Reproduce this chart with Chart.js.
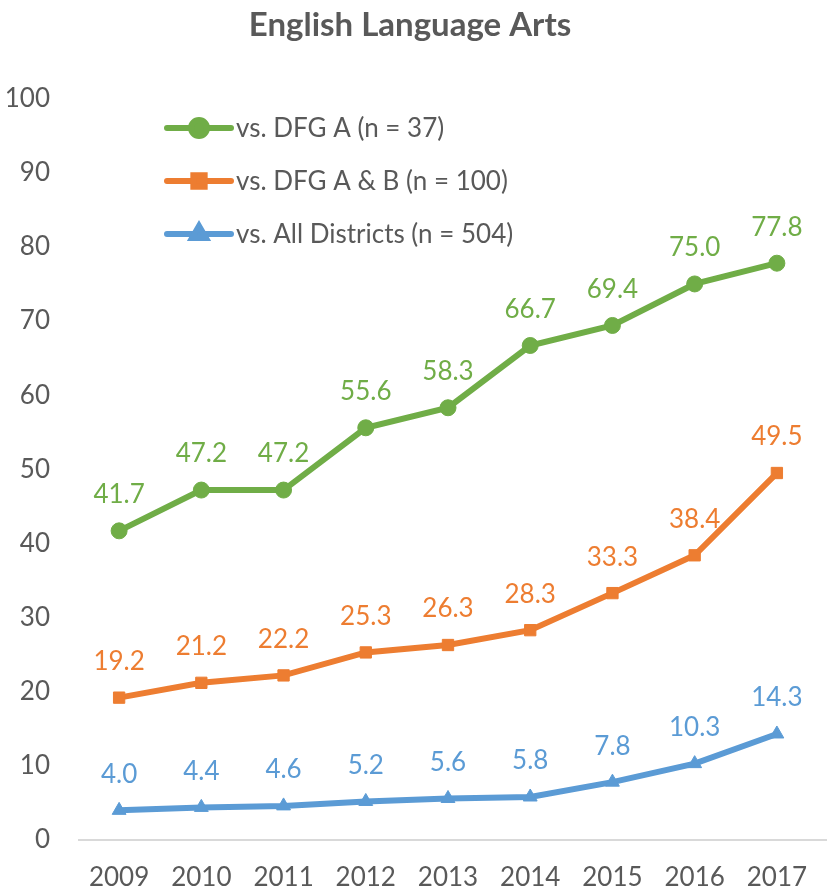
<!DOCTYPE html>
<html>
<head>
<meta charset="utf-8">
<script src="https://cdn.jsdelivr.net/npm/chart.js@4"></script>
<style>
  html, body { margin: 0; padding: 0; background: #fff; }
  #wrap { width: 827px; height: 893px; }
</style>
</head>
<body>
<div id="wrap"><canvas id="elaChart" width="827" height="893"></canvas></div>
<script>
// Chart data
const years = ["2009", "2010", "2011", "2012", "2013", "2014", "2015", "2016", "2017"];
const dfgA = [41.7, 47.2, 47.2, 55.6, 58.3, 66.7, 69.4, 75.0, 77.8];
const dfgAB = [19.2, 21.2, 22.2, 25.3, 26.3, 28.3, 33.3, 38.4, 49.5];
const allDistricts = [4.0, 4.4, 4.6, 5.2, 5.6, 5.8, 7.8, 10.3, 14.3];
const seriesNames = ["vs. DFG A (n = 37)", "vs. DFG A & B (n = 100)", "vs. All Districts (n = 504)"];

const textColor = "#595959";
const fontFamily = "Lato, 'Open Sans', sans-serif";

// Value labels above each point
const valueLabels = {
  id: "valueLabels",
  afterDatasetsDraw(chart) {
    const ctx = chart.ctx;
    ctx.save();
    ctx.font = "26px " + fontFamily;
    ctx.textAlign = "center";
    ctx.textBaseline = "middle";
    chart.data.datasets.forEach((ds, i) => {
      const meta = chart.getDatasetMeta(i);
      ctx.fillStyle = ds.borderColor;
      meta.data.forEach((pt, j) => {
        ctx.fillText(ds.data[j].toFixed(1), pt.x, pt.y - 36);
      });
    });
    ctx.restore();
  },
};

// Horizontal axis line + legend inside the plot
const extras = {
  id: "extras",
  beforeDatasetsDraw(chart) {
    const ctx = chart.ctx;
    const y0 = chart.scales.y.getPixelForValue(0);
    ctx.save();
    ctx.strokeStyle = "#d9d9d9";
    ctx.lineWidth = 2;
    ctx.beginPath();
    ctx.moveTo(chart.chartArea.left, y0);
    ctx.lineTo(chart.width, y0);
    ctx.stroke();
    ctx.restore();
  },
  afterDraw(chart) {
    const ctx = chart.ctx;
    ctx.save();
    chart.data.datasets.forEach((ds, i) => {
      const y = 128 + i * 53;
      ctx.strokeStyle = ds.borderColor;
      ctx.fillStyle = ds.borderColor;
      ctx.lineWidth = 6;
      ctx.lineCap = "round";
      ctx.beginPath();
      ctx.moveTo(167, y);
      ctx.lineTo(231, y);
      ctx.stroke();
      Chart.helpers.drawPoint(ctx, { pointStyle: ds.pointStyle, radius: 8, borderWidth: 1 }, 199, y);
      ctx.fillStyle = textColor;
      ctx.font = "26px " + fontFamily;
      ctx.textAlign = "left";
      ctx.textBaseline = "middle";
      ctx.fillText(ds.label, 236, y + 1);
    });
    ctx.restore();
  },
};

function makeSeries(label, data, color, style) {
  return {
    label: label,
    data: data,
    borderColor: color,
    backgroundColor: color,
    borderWidth: 6,
    pointStyle: style,
    pointRadius: 8,
    pointBorderWidth: 1,
    tension: 0,
  };
}

const ctx = document.getElementById("elaChart").getContext("2d");
const chart = new Chart(ctx, {
  type: "line",
  data: {
    labels: years,
    datasets: [
      makeSeries(seriesNames[0], dfgA, "#70AD47", "circle"),
      makeSeries(seriesNames[1], dfgAB, "#ED7D31", "rect"),
      makeSeries(seriesNames[2], allDistricts, "#5B9BD5", "triangle"),
    ],
  },
  options: {
    responsive: false,
    animation: false,
    layout: { padding: { left: 0, right: 7, top: 4, bottom: 0 } },
    scales: {
      y: {
        min: 0,
        max: 100,
        ticks: { stepSize: 10, color: textColor, padding: 20, font: { size: 26, family: fontFamily } },
        grid: { display: false },
        border: { display: false },
        afterFit: (axis) => { axis.width = 78; },
      },
      x: {
        offset: true,
        ticks: { color: textColor, padding: 14, font: { size: 26, family: fontFamily } },
        grid: { display: false },
        border: { display: false },
        afterFit: (axis) => { axis.height = 53; },
      },
    },
    plugins: {
      legend: { display: false },
      tooltip: { enabled: false },
      title: {
        display: true,
        text: "English Language Arts",
        color: textColor,
        font: { size: 33, weight: "bold", family: fontFamily },
        padding: { top: 2, bottom: 53 },
      },
    },
  },
  plugins: [valueLabels, extras],
});
</script>
</body>
</html>
